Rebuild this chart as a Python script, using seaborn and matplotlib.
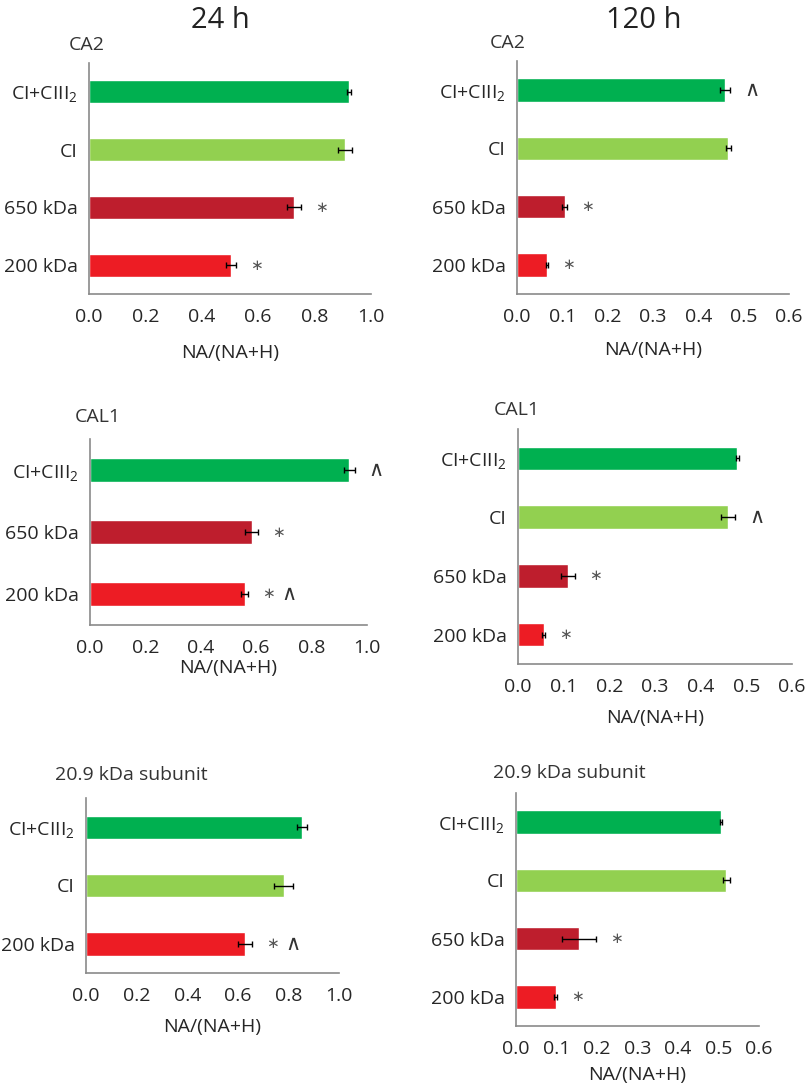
import matplotlib
matplotlib.use("Agg")
import matplotlib.pyplot as plt
import pandas as pd
import seaborn as sns

# categories (top to bottom) and values
cats_ca2 = ["CI+CIII2", "CI", "650 kDa", "200 kDa"]
cats_cal1_24 = ["CI+CIII2", "650 kDa", "200 kDa"]
cats_cal1_120 = ["CI+CIII2", "CI", "650 kDa", "200 kDa"]
cats_sub_24 = ["CI+CIII2", "CI", "200 kDa"]
cats_sub_120 = ["CI+CIII2", "CI", "650 kDa", "200 kDa"]

ca2_24_vals = [0.923, 0.908, 0.728, 0.504]
ca2_24_err = [0.007, 0.024, 0.025, 0.017]
ca2_24_marks = ["", "", "*", "*"]

ca2_120_vals = [0.459, 0.466, 0.105, 0.066]
ca2_120_err = [0.011, 0.006, 0.005, 0.003]
ca2_120_marks = ["^", "", "*", "*"]

cal1_24_vals = [0.936, 0.584, 0.558]
cal1_24_err = [0.019, 0.023, 0.014]
cal1_24_marks = ["^", "*", "* ^"]

cal1_120_vals = [0.480, 0.460, 0.110, 0.056]
cal1_120_err = [0.003, 0.016, 0.015, 0.003]
cal1_120_marks = ["", "^", "*", "*"]

sub_24_vals = [0.853, 0.781, 0.628]
sub_24_err = [0.020, 0.037, 0.028]
sub_24_marks = ["", "", "* ^"]

sub_120_vals = [0.506, 0.519, 0.156, 0.098]
sub_120_err = [0.003, 0.009, 0.042, 0.004]
sub_120_marks = ["", "", "*", "*"]

xticks_24 = [0.0, 0.2, 0.4, 0.6, 0.8, 1.0]
xticks_120 = [0.0, 0.1, 0.2, 0.3, 0.4, 0.5, 0.6]

colors = {"CI+CIII2": "#00B050", "CI": "#92D050",
          "650 kDa": "#BE1E2D", "200 kDa": "#ED1C24"}
shown = {"CI+CIII2": "CI+CIII$_2$", "CI": "CI",
         "650 kDa": "650 kDa", "200 kDa": "200 kDa"}

sns.set_style("white")
plt.rcParams['font.family'] = ['Open Sans', 'DejaVu Sans']
plt.rcParams['mathtext.fontset'] = 'custom'
plt.rcParams['mathtext.rm'] = 'Open Sans'
plt.rcParams['mathtext.it'] = 'Open Sans'
plt.rcParams['text.color'] = '#222222'

W, H = 812, 1088
fig = plt.figure(figsize=(W / 100, H / 100), dpi=100)

SPINE = '#8a8a8a'
# glyph, font size, colour for the significance marks
mark_style = {"*": ("\u2217", 11, '#555555'), "^": ("\u2227", 15, '#333333')}


def draw_panel(box, cats, vals, errs, marks, xticks, name, name_xy, xlabel_y):
    l, r, t, b = box
    ax = fig.add_axes([l / W, 1 - b / H, (r - l) / W, (b - t) / H])
    df = pd.DataFrame({'cat': cats, 'val': vals})
    sns.barplot(data=df, x='val', y='cat', hue='cat', order=cats,
                palette=colors, orient='h', width=0.4, saturation=1,
                legend=False, ax=ax)
    ax.errorbar(vals, range(len(cats)), xerr=errs, fmt='none',
                ecolor='black', elinewidth=1, capsize=2.5, capthick=1)
    for i, (v, e, m) in enumerate(zip(vals, errs, marks)):
        off = 10
        for tok in m.split():
            glyph, fs, col = mark_style[tok]
            ax.annotate(glyph, xy=(v + e, i), xytext=(off, 0), textcoords='offset points',
                        va='center', ha='left', fontsize=fs, color=col,
                        family=['DejaVu Sans'])
            off += 14
    n = len(cats)
    ax.set_ylim(n - 0.5, -0.5)
    ax.set_xlim(xticks[0], xticks[-1])
    ax.set_xticks(xticks)
    ax.set_xticklabels([f"{x:.1f}" for x in xticks], fontsize=14)
    ax.set_yticks(range(n))
    ax.set_yticklabels([shown[c] for c in cats], fontsize=14)
    ax.set_yticks([i - 0.5 for i in range(n + 1)], minor=True)
    ax.tick_params(axis='y', which='major', length=0, pad=8)
    ax.tick_params(axis='y', which='minor', length=5, color=SPINE, direction='out')
    ax.tick_params(axis='x', length=5, color=SPINE, direction='out', pad=5)
    for s in ['top', 'right']:
        ax.spines[s].set_visible(False)
    for s in ['left', 'bottom']:
        ax.spines[s].set_color(SPINE)
        ax.spines[s].set_linewidth(1.2)
    ax.set_ylabel('')
    ax.set_xlabel('NA/(NA+H)', fontsize=14)
    ax.xaxis.set_label_coords(0.5, -(xlabel_y - b) / (b - t))
    ax.xaxis.label.set_va('center')
    fig.text(name_xy[0] / W, 1 - name_xy[1] / H, name, fontsize=14,
             ha='left', va='center', color='#333333')
    return ax


draw_panel((89, 371, 63, 294), cats_ca2, ca2_24_vals, ca2_24_err, ca2_24_marks,
           xticks_24, "CA2", (69, 45), 353)
draw_panel((517, 789, 61, 294), cats_ca2, ca2_120_vals, ca2_120_err, ca2_120_marks,
           xticks_120, "CA2", (490, 43), 350)
draw_panel((90, 367, 439, 625), cats_cal1_24, cal1_24_vals, cal1_24_err, cal1_24_marks,
           xticks_24, "CAL1", (75, 417), 668)
draw_panel((518, 792, 429, 664), cats_cal1_120, cal1_120_vals, cal1_120_err, cal1_120_marks,
           xticks_120, "CAL1", (494, 410), 718)
draw_panel((86, 339, 798, 973), cats_sub_24, sub_24_vals, sub_24_err, sub_24_marks,
           xticks_24, "20.9 kDa subunit", (55, 775), 1027)
draw_panel((516, 759, 793, 1026), cats_sub_120, sub_120_vals, sub_120_err, sub_120_marks,
           xticks_120, "20.9 kDa subunit", (493, 773), 1075)

fig.text(220 / W, 1 - 20 / H, "24 h", fontsize=21, ha='center', va='center')
fig.text(644 / W, 1 - 20 / H, "120 h", fontsize=21, ha='center', va='center')

fig.savefig("out.png", dpi=100)
